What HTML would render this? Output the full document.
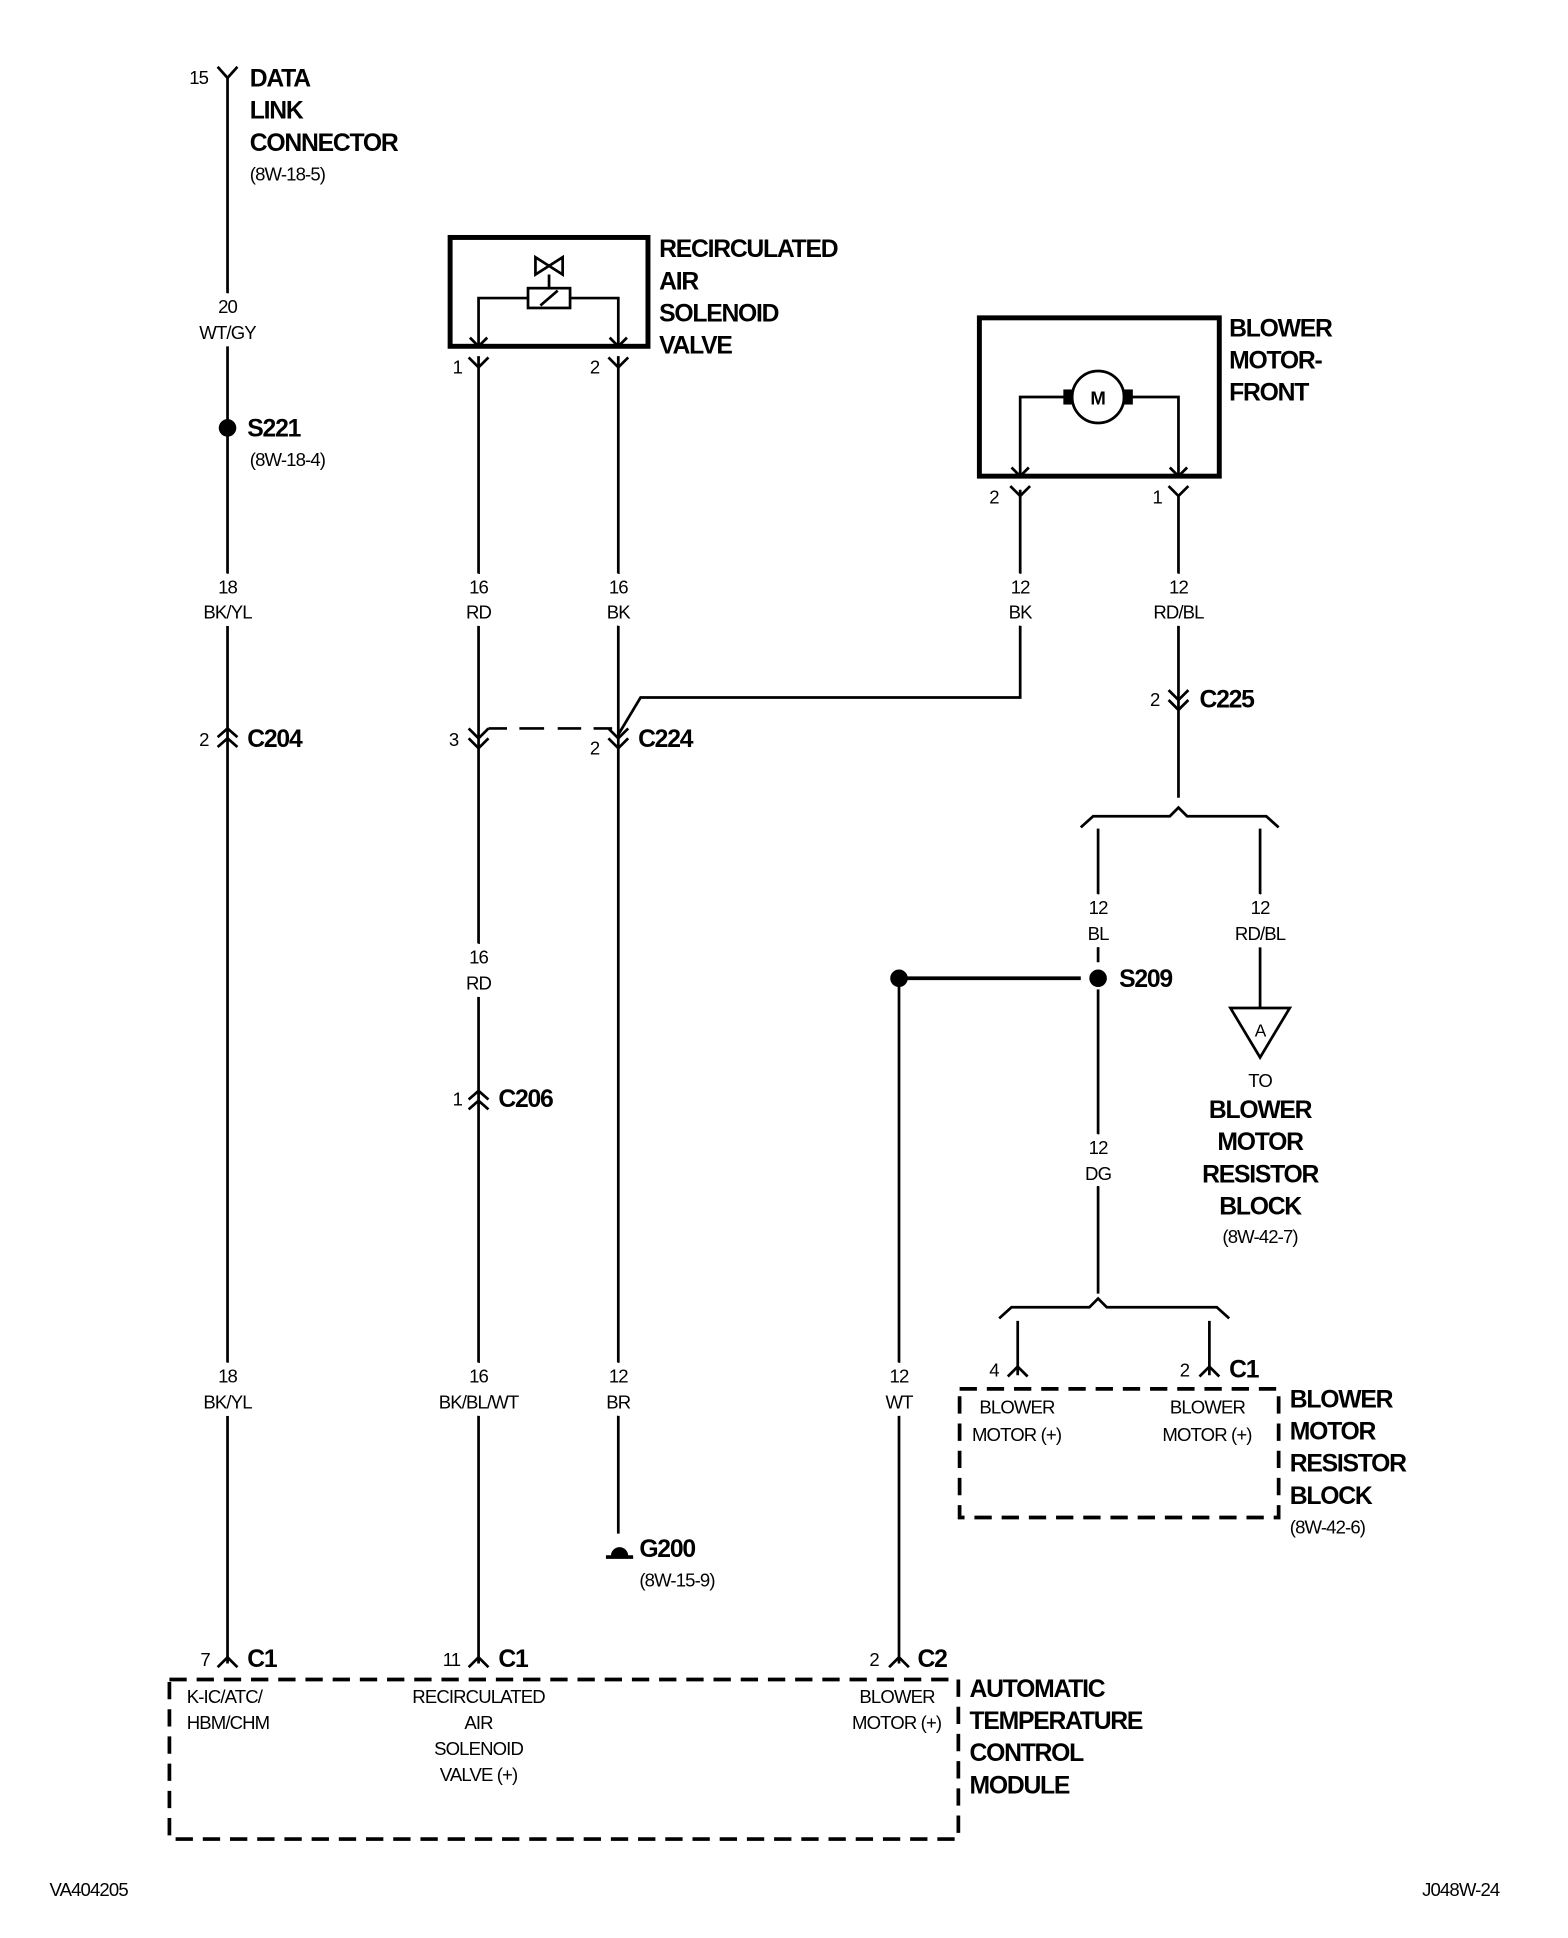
<!DOCTYPE html>
<html><head><meta charset="utf-8"><style>
html,body{margin:0;padding:0;background:#fff}
svg{display:block}
text{font-family:"Liberation Sans",Arial,sans-serif;fill:#000}
.b{font-weight:bold;font-size:20px;letter-spacing:-1px}
.s{font-size:15px;letter-spacing:-0.7px}
.m{font-size:15px;text-anchor:middle;letter-spacing:-0.7px;stroke:#fff;stroke-width:12px;stroke-linejoin:round;paint-order:stroke}
</style></head><body>
<svg width="1568" height="1938" viewBox="0 0 1268 1567" preserveAspectRatio="none" xmlns="http://www.w3.org/2000/svg">
<g stroke="#000" stroke-width="2.2" fill="none">
<path d="M184 62V1345"/>
<path d="M176 54L184 63L192 54"/>
<path d="M176 596L184 589L192 596M176 604L184 597L192 604"/>
<path d="M176 1348L184 1340L192 1348"/>
<rect x="364" y="192" width="160" height="88" stroke-width="4"/>
<path d="M387 280V241H427M461 241H500V280"/>
<rect x="427" y="233" width="34" height="16"/>
<path d="M437 247L451 235M444 233V222M433 208L455 222V208L433 222Z"/>
<path d="M380 273L387 280L394 273M493 273L500 280L507 273"/>
<path d="M387 288V1345M379 289L387 297L395 289"/>
<path d="M500 288V1240M492 289L500 297L508 289"/>
<path d="M379 589L387 597L395 589M379 597L387 605L395 597"/>
<path d="M492 589L500 597L508 589M492 597L500 605L508 597"/>
<path d="M395 589H410M420 589H440M451 589H470M480 589H495"/>
<path d="M825 400V564H518L500 594"/>
<path d="M379 889L387 882L395 889M379 897L387 890L395 897"/>
<path d="M379 1348L387 1340L395 1348"/>
<rect x="792" y="257" width="194" height="128" stroke-width="4"/>
<circle cx="888" cy="321" r="21"/>
<rect x="861" y="316" width="6" height="10" fill="#000"/><rect x="909" y="316" width="6" height="10" fill="#000"/>
<path d="M861 321H825V385M915 321H953V385"/>
<path d="M818 378L825 385L832 378M946 378L953 385L960 378"/>
<path d="M825 396V400M817 393L825 401L833 393"/>
<path d="M953 400V645M945 393L953 401L961 393"/>
<path d="M945 558L953 566L961 558M945 566L953 574L961 566"/>
<path d="M874 669L884 660H946L953 653L960 660H1024L1034 669"/>
<path d="M888 670V778M888 800V1046M1019 670V815"/>
<path d="M995 815H1043L1019 855Z"/>
<circle cx="888" cy="791" r="6" fill="#000"/>
<circle cx="727" cy="791" r="6" fill="#000"/>
<path d="M727 791H874" stroke-width="3"/>
<path d="M727 791V1345"/>
<path d="M719 1348L727 1340L735 1348"/>
<path d="M808 1066L818 1057H881L888 1050L895 1057H984L994 1066"/>
<path d="M823 1068V1112M978 1068V1112"/>
<path d="M815 1113L823 1105L831 1113M970 1113L978 1105L986 1113"/>
<rect x="776" y="1123" width="258" height="104" stroke-width="3" stroke-dasharray="14,8"/>
<rect x="137" y="1358" width="638" height="129" stroke-width="3" stroke-dasharray="14,8"/>
<circle cx="184" cy="346" r="6" fill="#000"/>
<path d="M490 1259H512" stroke-width="3"/>
</g>
<path d="M494 1258a6 6 0 0 1 14 0Z" fill="#000"/>
<text x="888" y="327" style="font-size:15px;font-weight:bold" text-anchor="middle">M</text>
<text class="s" x="153" y="68">15</text>
<text class="b" x="202" y="70">DATA</text>
<text class="b" x="202" y="96">LINK</text>
<text class="b" x="202" y="122">CONNECTOR</text>
<text class="s" x="202" y="146">(8W-18-5)</text>
<text class="m" x="184" y="253">20</text><text class="m" x="184" y="274">WT/GY</text>
<text class="b" x="200" y="353">S221</text>
<text class="s" x="202" y="377">(8W-18-4)</text>
<text class="m" x="184" y="480">18</text><text class="m" x="184" y="500">BK/YL</text>
<text class="s" x="161" y="603">2</text><text class="b" x="200" y="604">C204</text>
<text class="m" x="184" y="1118">18</text><text class="m" x="184" y="1139">BK/YL</text>
<text class="s" x="162" y="1347">7</text><text class="b" x="200" y="1348">C1</text>
<text class="s" x="151" y="1377">K-IC/ATC/</text><text class="s" x="151" y="1398">HBM/CHM</text>
<text class="b" x="533" y="208">RECIRCULATED</text>
<text class="b" x="533" y="234">AIR</text>
<text class="b" x="533" y="260">SOLENOID</text>
<text class="b" x="533" y="286">VALVE</text>
<text class="s" x="366" y="302">1</text><text class="s" x="477" y="302">2</text>
<text class="m" x="387" y="480">16</text><text class="m" x="387" y="500">RD</text>
<text class="m" x="500" y="480">16</text><text class="m" x="500" y="500">BK</text>
<text class="s" x="363" y="603">3</text><text class="s" x="477" y="610">2</text>
<text class="b" x="516" y="604">C224</text>
<text class="m" x="387" y="779">16</text><text class="m" x="387" y="800">RD</text>
<text class="s" x="366" y="894">1</text><text class="b" x="403" y="895">C206</text>
<text class="m" x="387" y="1118">16</text><text class="m" x="387" y="1139">BK/BL/WT</text>
<text class="m" x="500" y="1118">12</text><text class="m" x="500" y="1139">BR</text>
<text class="b" x="517" y="1259">G200</text><text class="s" x="517" y="1283">(8W-15-9)</text>
<text class="s" x="358" y="1347">11</text><text class="b" x="403" y="1348">C1</text>
<text class="m" x="387" y="1377" style="stroke:none">RECIRCULATED</text><text class="m" x="387" y="1398" style="stroke:none">AIR</text>
<text class="m" x="387" y="1419" style="stroke:none">SOLENOID</text><text class="m" x="387" y="1440" style="stroke:none">VALVE (+)</text>
<text class="b" x="994" y="272">BLOWER</text>
<text class="b" x="994" y="298">MOTOR-</text>
<text class="b" x="994" y="324">FRONT</text>
<text class="s" x="800" y="407">2</text><text class="s" x="932" y="407">1</text>
<text class="m" x="825" y="480">12</text><text class="m" x="825" y="500">BK</text>
<text class="m" x="953" y="480">12</text><text class="m" x="953" y="500">RD/BL</text>
<text class="s" x="930" y="571">2</text><text class="b" x="970" y="572">C225</text>
<text class="m" x="888" y="739">12</text><text class="m" x="888" y="760">BL</text>
<text class="m" x="1019" y="739">12</text><text class="m" x="1019" y="760">RD/BL</text>
<text class="b" x="905" y="798">S209</text>
<text class="m" x="1019" y="838" style="font-size:14px;stroke:none">A</text>
<text class="m" x="1019" y="879" style="stroke:none">TO</text>
<text class="b" x="1019" y="904" text-anchor="middle">BLOWER</text>
<text class="b" x="1019" y="930" text-anchor="middle">MOTOR</text>
<text class="b" x="1019" y="956" text-anchor="middle">RESISTOR</text>
<text class="b" x="1019" y="982" text-anchor="middle">BLOCK</text>
<text class="m" x="1019" y="1005" style="stroke:none">(8W-42-7)</text>
<text class="m" x="888" y="933">12</text><text class="m" x="888" y="954">DG</text>
<text class="s" x="800" y="1113">4</text><text class="s" x="954" y="1113">2</text>
<text class="b" x="994" y="1114">C1</text>
<text class="s" x="792" y="1143">BLOWER</text><text class="s" x="786" y="1165">MOTOR (+)</text>
<text class="s" x="946" y="1143">BLOWER</text><text class="s" x="940" y="1165">MOTOR (+)</text>
<text class="b" x="1043" y="1138">BLOWER</text><text class="b" x="1043" y="1164">MOTOR</text>
<text class="b" x="1043" y="1190">RESISTOR</text><text class="b" x="1043" y="1216">BLOCK</text>
<text class="s" x="1043" y="1240">(8W-42-6)</text>
<text class="m" x="727" y="1118">12</text><text class="m" x="727" y="1139">WT</text>
<text class="s" x="703" y="1347">2</text><text class="b" x="742" y="1348">C2</text>
<text class="s" x="695" y="1377">BLOWER</text><text class="s" x="689" y="1398">MOTOR (+)</text>
<text class="b" x="784" y="1372">AUTOMATIC</text><text class="b" x="784" y="1398">TEMPERATURE</text>
<text class="b" x="784" y="1424">CONTROL</text><text class="b" x="784" y="1450">MODULE</text>
<text class="s" x="40" y="1533">VA404205</text>
<text class="s" x="1150" y="1533">J048W-24</text>
</svg>
</body></html>
